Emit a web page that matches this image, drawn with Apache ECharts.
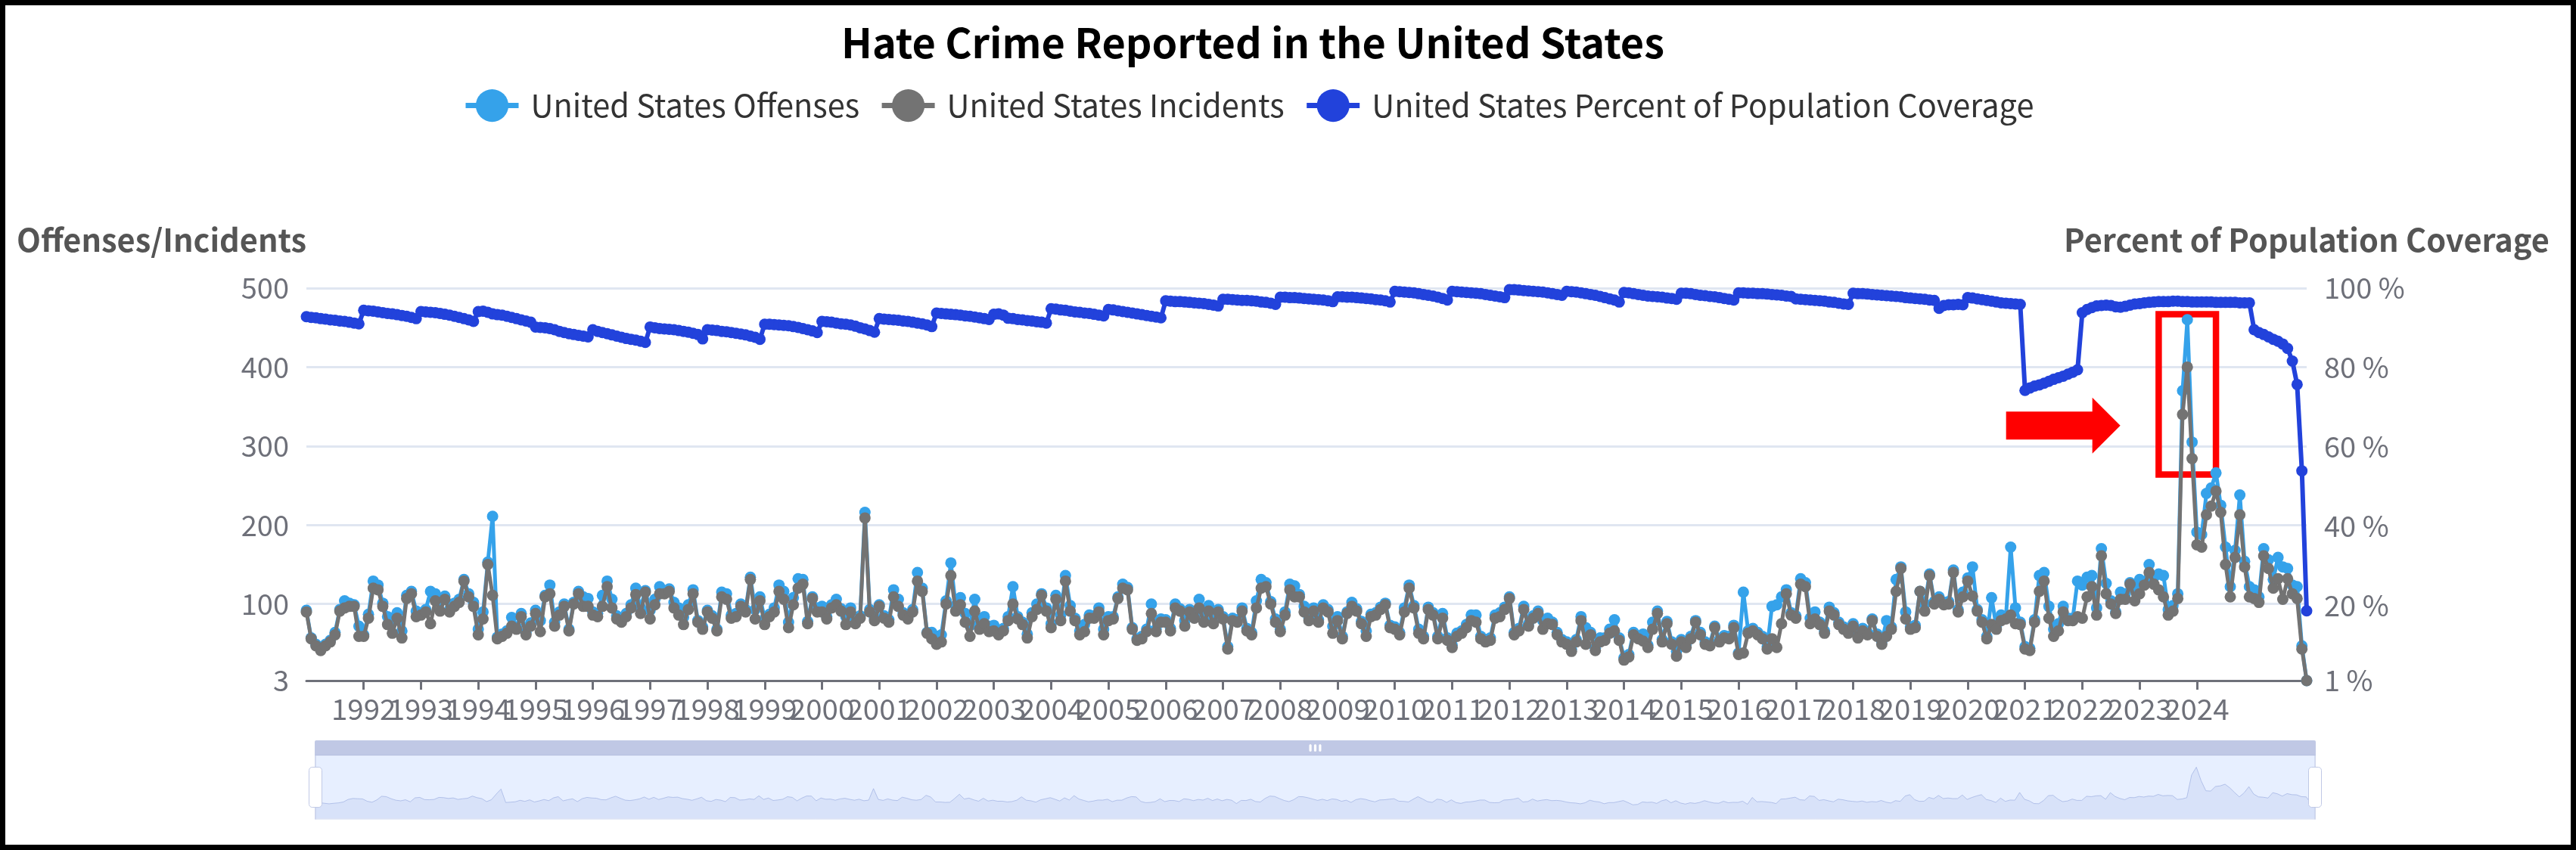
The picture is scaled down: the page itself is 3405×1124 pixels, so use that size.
<!DOCTYPE html>
<html><head><meta charset="utf-8">
<script src="https://cdn.jsdelivr.net/npm/echarts@6/dist/echarts.min.js"></script>
<style>
html,body{margin:0;padding:0;background:#fff;}
#c{position:absolute;left:0;top:0;width:3405px;height:1124px;}
#b{position:absolute;left:0;top:0;width:3405px;height:1124px;box-sizing:border-box;border:7px solid #000;pointer-events:none;}
</style>
</head><body><div id="c"></div><div id="b"></div>
<script>
const startYear = 1991, endYear = 2025;
const categories = [];
for (let y = startYear; y <= endYear; y++) for (let m = 1; m <= 12; m++) categories.push(y + '-' + (m < 10 ? '0' + m : '' + m));
const labeledYears = ['1992','1993','1994','1995','1996','1997','1998','1999','2000','2001','2002','2003','2004','2005','2006','2007','2008','2009','2010','2011','2012','2013','2014','2015','2016','2017','2018','2019','2020','2021','2022','2023','2024'];

const offenses = [
92,57,49,43,49,54,64,93,104,101,99,72,
61,87,129,124,101,84,77,89,66,111,116,91,
89,93,116,113,104,110,93,101,106,131,113,102,
68,90,153,211,58,62,66,83,71,88,64,76,
92,79,111,124,77,90,100,68,102,116,109,107,
90,88,111,129,106,85,80,88,99,120,95,117,
92,106,122,116,119,102,95,83,99,118,79,71,
92,85,68,115,113,86,88,100,93,134,93,109,
81,87,95,124,116,77,108,132,131,78,109,95,
97,84,99,106,94,84,95,78,85,216,93,82,
99,85,80,118,106,89,84,93,140,120,64,64,
59,61,104,152,98,108,88,73,106,75,84,72,
73,64,69,84,122,84,77,62,89,100,113,95,
75,111,86,136,98,82,66,74,86,85,95,68,
84,84,109,125,121,70,56,59,68,100,68,81,
80,69,100,94,79,93,85,106,80,98,78,93,
84,46,82,80,95,69,64,104,131,127,103,81,
68,90,125,123,112,97,82,95,80,99,93,72,
84,59,90,102,94,78,66,87,89,96,101,73,
71,64,95,124,98,68,59,96,89,59,88,57,
48,63,66,74,86,86,59,55,57,86,89,96,
109,64,69,97,75,85,91,79,82,77,64,55,
52,43,55,84,70,64,44,57,57,68,80,57,
32,36,64,59,62,48,77,91,55,78,52,40,
55,48,59,79,64,52,50,72,55,60,59,73,
38,115,66,69,64,59,46,97,99,109,118,89,
85,132,127,82,90,77,66,96,89,77,71,66,
75,60,69,64,81,62,52,79,71,131,147,90,
71,73,116,100,138,103,109,102,103,143,93,115,
133,147,93,80,59,108,71,86,84,172,95,77,
46,44,80,136,140,97,68,75,97,82,82,129,
124,134,136,95,170,126,104,90,115,113,127,120,
131,128,150,134,138,136,93,98,113,370,460,305,
191,188,240,247,266,225,172,122,168,238,154,122,
118,109,170,156,131,159,147,145,124,122,47,3
];

const incidents = [
90,56,47,41,47,52,61,91,95,97,97,59,
59,82,120,118,97,74,63,82,57,107,113,84,
86,90,75,104,91,106,90,97,102,129,109,97,
61,81,150,111,56,59,63,72,68,84,61,72,
88,65,109,113,72,86,97,66,100,113,97,97,
86,84,97,122,95,81,77,84,95,112,88,115,
81,99,113,113,116,95,86,74,93,113,77,68,
90,82,66,109,106,82,84,97,90,131,81,104,
74,84,90,116,106,70,99,120,125,75,107,90,
90,81,95,99,91,74,90,75,82,209,90,79,
97,82,77,109,97,86,81,90,129,116,63,56,
49,52,100,136,91,99,77,59,91,68,75,65,
66,61,66,79,100,81,74,57,84,93,111,91,
70,106,79,129,91,79,61,65,82,82,90,61,
79,81,107,120,118,68,54,56,65,88,65,77,
77,66,95,91,72,90,82,95,77,91,75,90,
81,43,79,77,91,66,61,95,120,122,100,77,
65,86,118,109,109,90,79,91,77,95,90,63,
79,56,88,97,91,75,59,84,86,93,99,70,
68,61,90,120,95,63,56,93,86,56,82,54,
45,59,63,70,79,77,56,52,54,82,84,93,
107,61,66,93,72,82,88,68,75,74,61,52,
49,40,52,79,49,61,41,52,54,63,66,54,
29,33,61,56,53,45,68,88,52,75,49,34,
52,45,56,77,61,49,47,70,52,57,56,70,
36,38,63,66,61,56,43,56,45,75,113,86,
82,125,122,75,81,74,63,91,86,74,68,63,
72,57,66,61,79,59,49,59,68,116,145,81,
68,70,116,91,136,100,106,99,100,140,90,109,
129,110,91,77,56,74,68,79,81,86,75,74,
43,41,77,116,129,82,59,66,90,79,79,84,
82,109,122,86,161,113,100,88,106,106,125,104,
113,124,140,125,118,109,86,91,107,340,400,284,
175,172,213,224,243,216,150,109,159,213,147,109,
107,102,161,145,120,132,106,132,113,107,43,3
];

const coverage = [
92.8,92.6,92.5,92.3,92.2,92.0,91.9,91.7,91.6,91.4,91.2,91.0,
94.4,94.3,94.2,94.0,93.8,93.6,93.5,93.3,93.1,92.9,92.6,92.3,
94.1,94.0,93.9,93.8,93.6,93.4,93.2,92.9,92.6,92.3,92.0,91.6,
94.1,94.2,93.9,93.5,93.3,93.2,92.9,92.6,92.3,92.0,91.7,91.4,
90.2,90.1,90.0,89.8,89.5,89.1,88.8,88.5,88.3,88.1,87.9,87.7,
89.5,89.1,88.8,88.5,88.2,87.9,87.6,87.3,87.1,86.9,86.6,86.3,
90.2,90.0,89.8,89.7,89.6,89.5,89.3,89.1,88.9,88.6,88.3,87.2,
89.5,89.4,89.3,89.1,89.0,88.8,88.6,88.4,88.2,87.9,87.6,87.1,
90.9,90.9,90.8,90.7,90.6,90.5,90.3,90.1,89.8,89.5,89.2,88.8,
91.6,91.5,91.4,91.2,91.0,90.9,90.7,90.4,90.0,89.7,89.3,88.9,
92.3,92.2,92.1,92.0,91.9,91.7,91.6,91.4,91.2,91.0,90.7,90.3,
93.7,93.6,93.5,93.4,93.3,93.2,93.0,92.9,92.7,92.5,92.3,92.1,
93.4,93.5,93.2,92.4,92.3,92.1,92.0,91.8,91.7,91.5,91.4,91.2,
94.8,94.7,94.5,94.4,94.2,94.0,93.9,93.7,93.6,93.4,93.2,93.0,
94.6,94.5,94.3,94.1,93.9,93.7,93.5,93.3,93.1,92.9,92.7,92.5,
96.8,96.7,96.6,96.6,96.5,96.4,96.3,96.2,96.1,95.9,95.7,95.5,
97.2,97.2,97.1,97.0,96.9,96.9,96.8,96.7,96.5,96.4,96.2,95.9,
97.7,97.7,97.6,97.6,97.5,97.4,97.3,97.2,97.1,97.0,96.8,96.6,
97.8,97.8,97.7,97.7,97.6,97.5,97.4,97.3,97.1,97.0,96.8,96.5,
99.2,99.1,99.0,98.9,98.8,98.6,98.4,98.2,98.0,97.7,97.4,97.0,
99.2,99.1,99.0,98.9,98.8,98.7,98.6,98.4,98.2,98.0,97.8,97.6,
99.6,99.6,99.5,99.4,99.3,99.2,99.1,99.0,98.8,98.6,98.4,98.2,
99.2,99.1,99.0,98.8,98.6,98.4,98.2,97.9,97.6,97.3,97.0,96.5,
98.9,98.8,98.6,98.4,98.2,98.0,97.9,97.8,97.7,97.5,97.4,97.2,
98.7,98.7,98.6,98.4,98.2,98.1,97.9,97.8,97.6,97.4,97.2,97.0,
98.8,98.8,98.7,98.7,98.6,98.6,98.5,98.4,98.3,98.2,98.0,97.9,
97.3,97.2,97.1,97.0,96.9,96.8,96.7,96.5,96.4,96.2,96.0,95.9,
98.7,98.6,98.6,98.5,98.4,98.3,98.2,98.1,98.0,97.9,97.8,97.6,
97.5,97.4,97.3,97.2,97.0,96.9,94.9,95.6,95.8,95.8,95.9,95.8,
97.6,97.5,97.3,97.1,96.9,96.7,96.5,96.3,96.2,96.1,96.0,95.9,
74.2,74.8,75.3,75.6,76.0,76.5,77.0,77.4,77.8,78.3,78.8,79.4,
93.8,94.6,95.1,95.5,95.6,95.7,95.6,95.3,95.2,95.4,95.7,96.0,
96.1,96.3,96.4,96.5,96.6,96.6,96.6,96.7,96.7,96.6,96.6,96.5,
96.5,96.5,96.5,96.5,96.4,96.4,96.4,96.4,96.4,96.3,96.3,96.3,
89.5,88.8,88.3,87.7,87.1,86.6,85.9,84.8,81.6,75.7,53.9,18.6
];

// annotation (red box around the 2023 spike, red arrow pointing at it)
const highlightBox = [['2023-05', 467], ['2024-05', 264]];
const arrowAt = ['2021-09', 326];

const FONT = '"Noto Sans CJK SC", "Noto Sans", sans-serif';
const isYearTick = (i, v) => v.slice(5) === '01' && labeledYears.indexOf(v.slice(0, 4)) >= 0;

const chart = echarts.init(document.getElementById('c'), null, {renderer: 'canvas'});
chart.setOption({
  animation: false,
  textStyle: {fontFamily: FONT},
  title: {
    text: 'Hate Crime Reported in the United States',
    left: 1651, top: 24, textAlign: 'center',
    textStyle: {fontSize: 54, fontWeight: 'bold', color: '#000', fontFamily: FONT}
  },
  legend: {
    data: ['United States Offenses', 'United States Incidents', 'United States Percent of Population Coverage'],
    left: 607, top: 113,
    itemWidth: 70, itemHeight: 54, itemGap: 26,
    lineStyle: {width: 7},
    textStyle: {fontSize: 41.5, color: '#333', fontFamily: FONT, padding: [0, 0, 0, 11]}
  },
  grid: {left: 405, right: 356, top: 381, bottom: 224},
  xAxis: {
    type: 'category', boundaryGap: false, data: categories,
    axisLine: {lineStyle: {color: '#6E7079', width: 3}},
    axisTick: {interval: isYearTick, length: 12, lineStyle: {width: 3}},
    axisLabel: {interval: 0, hideOverlap: false,
      formatter: (v, i) => isYearTick(i, v) ? v.slice(0, 4) : '',
      fontSize: 38.5, color: '#6E7079', margin: 18, fontFamily: FONT}
  },
  yAxis: [{
    type: 'value', min: 3, max: 500, splitNumber: 5,
    name: 'Offenses/Incidents', nameGap: 43,
    nameTextStyle: {fontSize: 41.5, fontWeight: 'bold', color: '#555', align: 'right', fontFamily: FONT},
    axisLabel: {fontSize: 38, color: '#6E7079', margin: 23, fontFamily: FONT},
    splitLine: {lineStyle: {color: '#E0E6F1', width: 3}}
  }, {
    type: 'value', min: 1, max: 100, splitNumber: 5,
    name: 'Percent of Population Coverage', nameGap: 43,
    nameTextStyle: {fontSize: 41.5, fontWeight: 'bold', color: '#555', fontFamily: FONT},
    axisLabel: {fontSize: 38, color: '#6E7079', margin: 23, formatter: '{value} %', fontFamily: FONT},
    splitLine: {show: false}
  }],
  dataZoom: [{
    type: 'slider', xAxisIndex: 0, start: 0, end: 100,
    left: 408, right: 352, top: 979, height: 85, moveHandleSize: 20
  }],
  series: [{
    name: 'United States Offenses', type: 'line', data: offenses,
    color: '#35A2EA', symbol: 'circle', symbolSize: 15, showAllSymbol: true,
    lineStyle: {width: 5}, z: 2
  }, {
    name: 'United States Incidents', type: 'line', data: incidents,
    color: '#737373', symbol: 'circle', symbolSize: 15, showAllSymbol: true,
    lineStyle: {width: 5}, z: 3
  }, {
    name: 'United States Percent of Population Coverage', type: 'line', yAxisIndex: 1, data: coverage,
    color: '#2242DB', symbol: 'circle', symbolSize: 15, showAllSymbol: true,
    lineStyle: {width: 6}, z: 4
  }, {
    name: 'annotation', type: 'line', data: [], z: 10, silent: true,
    markArea: {
      silent: true,
      itemStyle: {color: 'rgba(0,0,0,0)', borderColor: '#FF0000', borderWidth: 8.5},
      data: [[{coord: highlightBox[0]}, {coord: highlightBox[1]}]]
    },
    markPoint: {
      silent: true,
      symbol: 'path://M0,18.5 L114,18.5 L114,0 L151,37 L114,74 L114,55.5 L0,55.5 Z',
      symbolSize: [151, 74],
      itemStyle: {color: '#FF0000'},
      label: {show: false},
      data: [{coord: arrowAt}]
    }
  }]
});
</script>
</body></html>
